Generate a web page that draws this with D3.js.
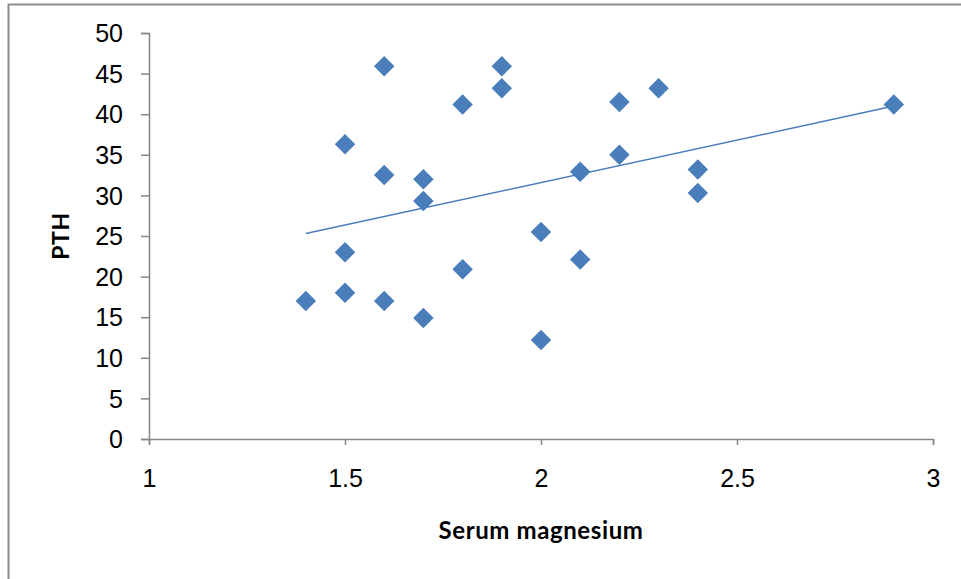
<!DOCTYPE html>
<html>
<head>
<meta charset="utf-8">
<script src="https://cdn.jsdelivr.net/npm/d3@7/dist/d3.min.js"></script>
<style>
html,body{margin:0;padding:0;background:#fff;}
svg{display:block;}
</style>
</head>
<body>
<svg id="chart" width="961" height="579"></svg>
<script>
const magnesium = [1.4,1.5,1.5,1.5,1.6,1.6,1.6,1.7,1.7,1.7,1.8,1.8,1.9,1.9,2.0,2.0,2.1,2.1,2.2,2.2,2.3,2.4,2.4,2.9];
const pth = [17,36.3,23,18,45.9,32.5,17,32,29.3,14.9,41.2,20.9,45.9,43.2,25.5,12.2,32.9,22.1,41.5,35,43.2,33.2,30.3,41.2];
const trendX = [1.4, 2.9];
const trendY = [25.3, 41.0];
const xTicks = [1, 1.5, 2, 2.5, 3];
const yTicks = [0,5,10,15,20,25,30,35,40,45,50];

const svg = d3.select("#chart");
const blue = "#4a7ebb";
const axisGray = "#868686";

// outer frame
svg.append("rect").attr("x",8.5).attr("y",4.5).attr("width",1000).attr("height",1000)
  .attr("fill","none").attr("stroke","#8c8c8c").attr("stroke-width",2);

const x = d3.scaleLinear().domain([1,3]).range([149,933]);
const y = d3.scaleLinear().domain([0,50]).range([439,33]);

const xAxis = svg.append("g").attr("transform","translate(0,439)")
  .call(d3.axisBottom(x).tickValues(xTicks).tickSize(6).tickPadding(24).tickFormat(d3.format("")));
const yAxis = svg.append("g").attr("transform","translate(149,0)")
  .call(d3.axisLeft(y).tickValues(yTicks).tickSize(8).tickPadding(18));

[xAxis,yAxis].forEach(g=>{
  g.select(".domain").attr("stroke",axisGray).attr("stroke-width",1.5);
  g.selectAll(".tick line").attr("stroke",axisGray).attr("stroke-width",1.5);
  g.selectAll(".tick text").attr("fill","#000").style("font-family","Liberation Sans, Arial, sans-serif").style("font-size","25px");
});
yAxis.selectAll(".tick text").attr("dy","0.35em");

// trendline
const line = d3.line().x(d=>x(d[0])).y(d=>y(d[1]));
svg.append("path").datum(trendX.map((v,i)=>[v,trendY[i]]))
  .attr("d",line).attr("fill","none").attr("stroke",blue).attr("stroke-width",1.5);

// diamonds
const sym = d3.symbol().type(d3.symbolSquare).size(210);
svg.append("g").selectAll("path").data(magnesium.map((v,i)=>[v,pth[i]])).join("path")
  .attr("d",sym)
  .attr("transform",d=>`translate(${x(d[0])},${y(d[1])}) rotate(45)`)
  .attr("fill",blue);

// axis titles
svg.append("text").attr("x",541).attr("y",539).attr("text-anchor","middle")
  .style("font-family","Lato, 'Open Sans', sans-serif").style("font-weight","bold").style("font-size","24px")
  .style("letter-spacing","0.6px")
  .text("Serum magnesium");
svg.append("text").attr("transform","translate(69,236) rotate(-90)").attr("text-anchor","middle")
  .style("font-family","Lato, 'Open Sans', sans-serif").style("font-weight","bold").style("font-size","23px")
  .style("letter-spacing","0.5px")
  .text("PTH");
</script>
</body>
</html>
